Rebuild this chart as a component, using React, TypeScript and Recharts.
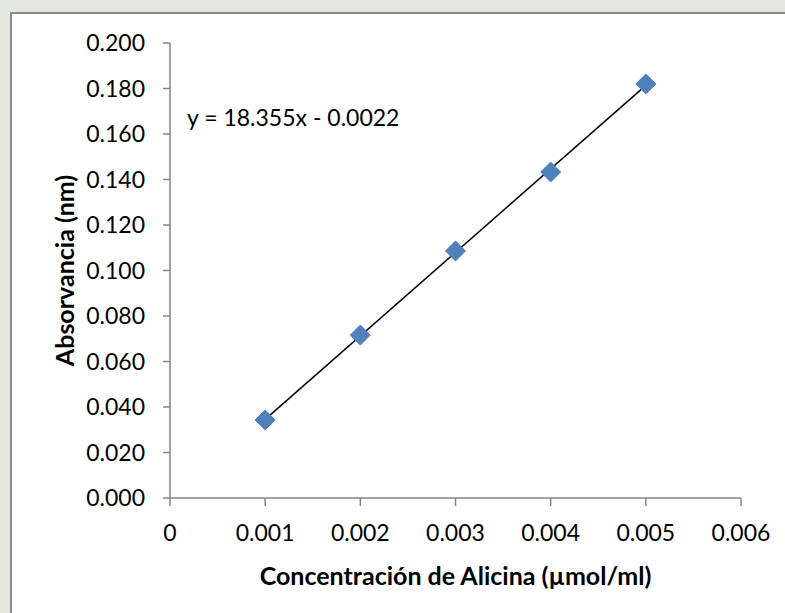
import React from "react";
import { ScatterChart, Scatter, XAxis, YAxis, ReferenceLine, Label } from "recharts";

const concentrations = [0.001, 0.002, 0.003, 0.004, 0.005];
const absorbances = [0.0343, 0.0716, 0.1086, 0.1433, 0.182];
const xTicks = [0, 0.001, 0.002, 0.003, 0.004, 0.005, 0.006];
const yTicks = [0, 0.02, 0.04, 0.06, 0.08, 0.1, 0.12, 0.14, 0.16, 0.18, 0.2];
const equationText = "y = 18.355x - 0.0022";
const xTitle = "Concentración de Alicina (µmol/ml)";
const yTitle = "Absorvancia (nm)";

const data = concentrations.map((x, i) => ({ x, y: absorbances[i] }));

// least squares trendline through the points
const n = concentrations.length;
const mx = concentrations.reduce((a, b) => a + b, 0) / n;
const my = absorbances.reduce((a, b) => a + b, 0) / n;
let sxy = 0;
let sxx = 0;
for (let i = 0; i < n; i++) {
  sxy += (concentrations[i] - mx) * (absorbances[i] - my);
  sxx += (concentrations[i] - mx) ** 2;
}
const slope = sxy / sxx;
const intercept = my - slope * mx;
const x1 = concentrations[0];
const x2 = concentrations[n - 1];

const FONT = "Lato, 'Open Sans', sans-serif";

const Diamond = (props: any) => {
  const { cx, cy } = props;
  const r = 10;
  return (
    <polygon
      points={`${cx},${cy - r} ${cx + r},${cy} ${cx},${cy + r} ${cx - r},${cy}`}
      fill="#4f81bd"
      stroke="#4a7ebb"
      strokeWidth={1}
    />
  );
};

export default function App() {
  return (
    <div
      style={{
        position: "fixed",
        left: 0,
        top: 0,
        width: 785,
        height: 613,
        overflow: "hidden",
        background: "#e3e6e1",
        fontFamily: FONT,
      }}
    >
      <div
        style={{
          position: "absolute",
          left: 10,
          top: 12,
          width: 800,
          height: 620,
          background: "#ffffff",
          border: "2px solid #8c8c8c",
          boxSizing: "border-box",
        }}
      />
      <div style={{ position: "absolute", left: 0, top: 0 }}>
        <ScatterChart
          width={785}
          height={613}
          margin={{ top: 43, right: 44, bottom: 55, left: 70 }}
        >
          <XAxis
            type="number"
            dataKey="x"
            domain={[0, 0.006]}
            ticks={xTicks}
            interval={0}
            height={60}
            tickFormatter={(v: number) => (v === 0 ? "0" : v.toFixed(3))}
            stroke="#868686"
            strokeWidth={1.5}
            tickSize={8}
            tickMargin={19}
            tick={{ fill: "#000", fontSize: 23, fontFamily: FONT }}
          >
            <Label
              value={xTitle}
              position="insideBottom"
              offset={-27}
              style={{ fill: "#000", fontSize: 25, fontWeight: 700, fontFamily: FONT }}
            />
          </XAxis>
          <YAxis
            type="number"
            dataKey="y"
            domain={[0, 0.2]}
            ticks={yTicks}
            interval={0}
            width={100}
            tickFormatter={(v: number) => v.toFixed(3)}
            stroke="#868686"
            strokeWidth={1.5}
            tickSize={7}
            tickMargin={18}
            tick={{ fill: "#000", fontSize: 23, fontFamily: FONT }}
          >
            <Label
              value={yTitle}
              angle={-90}
              position="insideLeft"
              offset={-5}
              style={{ textAnchor: "middle", fill: "#000", fontSize: 25, fontWeight: 700, fontFamily: FONT }}
            />
          </YAxis>
          <ReferenceLine
            segment={[
              { x: x1, y: slope * x1 + intercept },
              { x: x2, y: slope * x2 + intercept },
            ]}
            stroke="#000"
            strokeWidth={1.5}
            ifOverflow="visible"
          />
          <Scatter data={data} shape={<Diamond />} isAnimationActive={false} />
        </ScatterChart>
      </div>
      <div
        style={{
          position: "absolute",
          left: 187,
          top: 103,
          fontSize: 23,
          fontFamily: FONT,
          color: "#000",
          whiteSpace: "nowrap",
        }}
      >
        {equationText}
      </div>
    </div>
  );
}
